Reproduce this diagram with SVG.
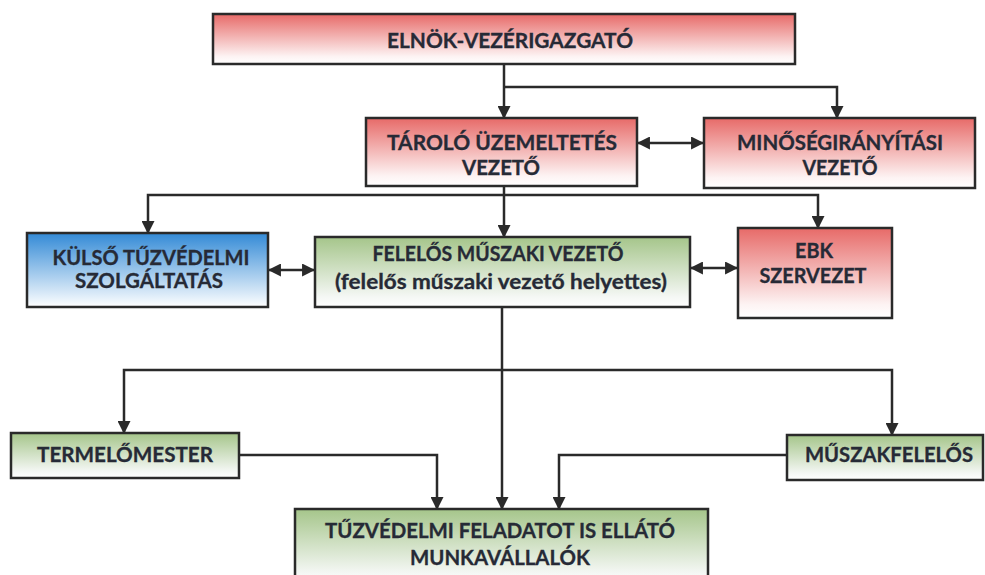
<svg xmlns="http://www.w3.org/2000/svg" width="985" height="575" viewBox="0 0 985 575">
<defs>
<linearGradient id="gRed" x1="0" y1="0" x2="0" y2="1">
<stop offset="0" stop-color="#e76a68"/><stop offset="0.85" stop-color="#fdf3f3"/><stop offset="1" stop-color="#ffffff"/>
</linearGradient>
<linearGradient id="gBlue" x1="0" y1="0" x2="0" y2="1">
<stop offset="0" stop-color="#338ad6"/><stop offset="0.9" stop-color="#eaf3fb"/><stop offset="1" stop-color="#ffffff"/>
</linearGradient>
<linearGradient id="gGreen" x1="0" y1="0" x2="0" y2="1">
<stop offset="0" stop-color="#a5c58a"/><stop offset="0.85" stop-color="#f4f7f4"/><stop offset="1" stop-color="#ffffff"/>
</linearGradient>
<marker id="arr" viewBox="0 0 12 12" markerWidth="13" markerHeight="13" refX="11" refY="6" orient="auto-start-reverse" markerUnits="userSpaceOnUse">
<path d="M0,0 L12,6 L0,12 z" fill="#2a2a2a"/>
</marker>
<style>
.box{stroke:#2a2a2a;stroke-width:2.5}
.red{fill:url(#gRed)}
.blue{fill:url(#gBlue)}
.green{fill:url(#gGreen)}
.t{font-family:Lato,"Liberation Sans",sans-serif;font-weight:bold;font-size:20px;fill:#262a36;stroke:#262a36;stroke-width:0.3;text-anchor:middle}
.c{fill:none;stroke:#2a2a2a;stroke-width:2.5}
</style>
</defs>
<rect width="985" height="575" fill="#ffffff"/>
<g id="connectors">
<path class="c" d="M504,64 V118" marker-end="url(#arr)"/>
<path class="c" d="M504,87 H837 V118" marker-end="url(#arr)"/>
<path class="c" d="M638,143 H703" marker-start="url(#arr)" marker-end="url(#arr)"/>
<path class="c" d="M504,186 V237" marker-end="url(#arr)"/>
<path class="c" d="M504,195 H148 V233" marker-end="url(#arr)"/>
<path class="c" d="M504,195 H818 V228" marker-end="url(#arr)"/>
<path class="c" d="M269,270 H314" marker-start="url(#arr)" marker-end="url(#arr)"/>
<path class="c" d="M691,268 H737" marker-start="url(#arr)" marker-end="url(#arr)"/>
<path class="c" d="M502,307 V509" marker-end="url(#arr)"/>
<path class="c" d="M502,370 H124 V433" marker-end="url(#arr)"/>
<path class="c" d="M502,370 H892 V435" marker-end="url(#arr)"/>
<path class="c" d="M239,455 H437 V509" marker-end="url(#arr)"/>
<path class="c" d="M787,455 H559 V509" marker-end="url(#arr)"/>
</g>
<g id="elnok">
<rect class="box red" x="213" y="14" width="582" height="50"/>
<text class="t" x="510" y="48" textLength="246" lengthAdjust="spacingAndGlyphs">ELNÖK-VEZÉRIGAZGATÓ</text>
</g>
<g id="tarolo">
<rect class="box red" x="366" y="118" width="271" height="68"/>
<text class="t" x="502" y="150" textLength="230" lengthAdjust="spacingAndGlyphs">TÁROLÓ ÜZEMELTETÉS</text>
<text class="t" x="501" y="175" textLength="78" lengthAdjust="spacingAndGlyphs">VEZETŐ</text>
</g>
<g id="minoseg">
<rect class="box red" x="704" y="118" width="271" height="70"/>
<text class="t" x="840" y="150" textLength="206" lengthAdjust="spacingAndGlyphs">MINŐSÉGIRÁNYÍTÁSI</text>
<text class="t" x="840" y="175" textLength="75" lengthAdjust="spacingAndGlyphs">VEZETŐ</text>
</g>
<g id="kulso">
<rect class="box blue" x="27" y="233" width="241" height="74"/>
<text class="t" x="151" y="265" textLength="197" lengthAdjust="spacingAndGlyphs">KÜLSŐ TŰZVÉDELMI</text>
<text class="t" x="149" y="288" textLength="148" lengthAdjust="spacingAndGlyphs">SZOLGÁLTATÁS</text>
</g>
<g id="felelos">
<rect class="box green" x="315" y="237" width="375" height="70"/>
<text class="t" x="498" y="261" textLength="251" lengthAdjust="spacingAndGlyphs">FELELŐS MŰSZAKI VEZETŐ</text>
<text class="t" x="501" y="289" textLength="332" lengthAdjust="spacingAndGlyphs">(felelős műszaki vezető helyettes)</text>
</g>
<g id="ebk">
<rect class="box red" x="738" y="228" width="154" height="90"/>
<text class="t" x="814" y="258" textLength="38" lengthAdjust="spacingAndGlyphs">EBK</text>
<text class="t" x="813" y="283" textLength="107" lengthAdjust="spacingAndGlyphs">SZERVEZET</text>
</g>
<g id="termelo">
<rect class="box green" x="11" y="433" width="228" height="45"/>
<text class="t" x="125" y="462" textLength="176" lengthAdjust="spacingAndGlyphs">TERMELŐMESTER</text>
</g>
<g id="muszak">
<rect class="box green" x="787" y="435" width="196" height="45"/>
<text class="t" x="889" y="462" textLength="168" lengthAdjust="spacingAndGlyphs">MŰSZAKFELELŐS</text>
</g>
<g id="munkavallalok">
<rect class="box green" x="295" y="509" width="413" height="75"/>
<text class="t" x="500" y="538" textLength="350" lengthAdjust="spacingAndGlyphs">TŰZVÉDELMI FELADATOT IS ELLÁTÓ</text>
<text class="t" x="500" y="565" textLength="180" lengthAdjust="spacingAndGlyphs">MUNKAVÁLLALÓK</text>
</g>
</svg>
